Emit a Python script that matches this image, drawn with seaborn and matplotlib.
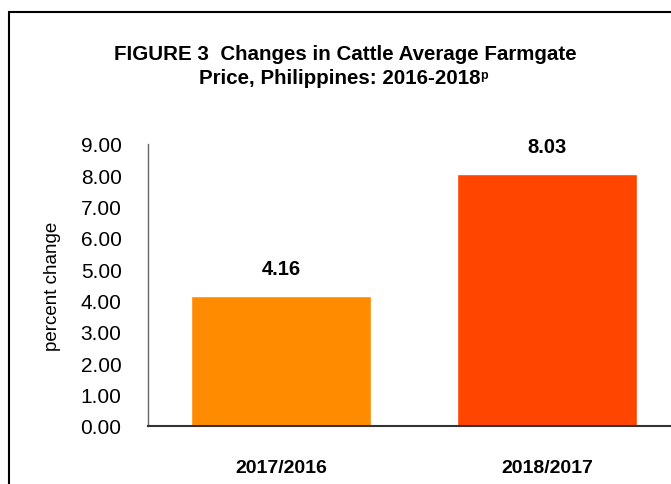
import matplotlib
matplotlib.use("Agg")
import pandas as pd
import matplotlib.pyplot as plt
import seaborn as sns
from matplotlib.patches import Rectangle

periods = ["2017/2016", "2018/2017"]
pct_change = [4.16, 8.03]
bar_colors = ["#FF8C00", "#FF4500"]
y_ticks = [0, 1, 2, 3, 4, 5, 6, 7, 8, 9]

df = pd.DataFrame({"period": periods, "change": pct_change})

sns.set_style("white")
plt.rcParams["font.family"] = ["Liberation Sans", "DejaVu Sans"]
plt.rcParams["text.color"] = "black"
plt.rcParams["axes.labelcolor"] = "black"
plt.rcParams["xtick.labelcolor"] = "black"
plt.rcParams["ytick.labelcolor"] = "black"

fig = plt.figure(figsize=(6.71, 4.85), dpi=100)
ax = fig.add_axes([148 / 671, 1 - 427 / 485, 532 / 671, 282 / 485])

sns.barplot(data=df, x="period", y="change", hue="period", palette=bar_colors,
            width=0.68, legend=False, ax=ax, saturation=1)

ax.set_ylim(0, 9)
ax.set_xlim(-0.5, 1.5)
ax.set_yticks(y_ticks)
ax.set_yticklabels([f"{v:.2f}" for v in y_ticks], fontsize=15)
ax.set_xticks([0, 1])
ax.set_xticklabels(periods, fontsize=14, fontweight="bold")
ax.tick_params(axis="x", length=0, pad=24)
ax.set_xticks([-0.5, 0.5, 1.5], minor=True)
ax.tick_params(axis="x", which="minor", length=6, width=1.5, color="#333333", direction="out")
ax.tick_params(axis="y", length=5, width=1, color="#555555", direction="out", pad=14)
ax.set_xlabel("")
ax.set_ylabel("percent change", fontsize=13.5, labelpad=14)

for s in ["top", "right"]:
    ax.spines[s].set_visible(False)
ax.spines["left"].set_color("#666666")
ax.spines["left"].set_linewidth(1)
ax.spines["bottom"].set_color("#333333")
ax.spines["bottom"].set_linewidth(1.5)

for cont in ax.containers:
    ax.bar_label(cont, fmt="%.2f", padding=13, fontsize=14.5, fontweight="bold")

# title lines
fig.text(345 / 671, 1 - 55 / 485, "FIGURE 3  Changes in Cattle Average Farmgate",
         ha="center", va="center", fontsize=14.8, fontweight="bold")
t2 = fig.text(340 / 671, 1 - 78 / 485, "Price, Philippines: 2016-2018",
              ha="center", va="center", fontsize=14.8, fontweight="bold")
fig.canvas.draw()
bb = t2.get_window_extent().transformed(fig.transFigure.inverted())
fig.text(bb.x1 - 1 / 671, 1 - 76 / 485, "p", ha="left", va="center",
         fontsize=9, fontweight="bold")

# outer frame (cropped on the right and bottom)
fig.patches.append(Rectangle((9 / 671, -0.1), 1.2, 1 - 13 / 485 + 0.1,
                             transform=fig.transFigure, fill=False,
                             edgecolor="black", linewidth=1.5))

fig.savefig("out.png", dpi=100)
